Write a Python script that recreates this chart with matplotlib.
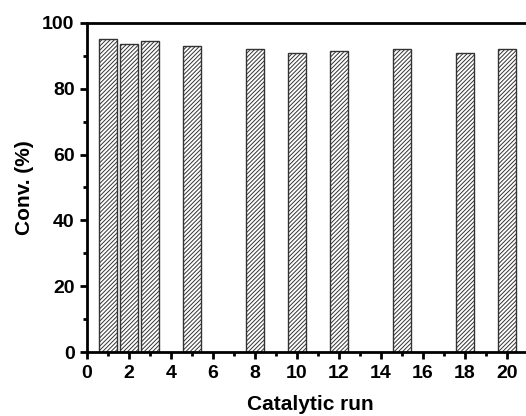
import matplotlib
matplotlib.use("Agg")
import matplotlib.pyplot as plt
from matplotlib.ticker import MultipleLocator

# catalytic run number and conversion (%)
runs = [1, 2, 3, 5, 8, 10, 12, 15, 18, 20]
conv = [95, 93.5, 94.5, 93, 92, 91, 91.5, 92, 91, 92]

plt.rcParams['font.family'] = ['Liberation Sans', 'DejaVu Sans']
plt.rcParams['font.weight'] = 'bold'
plt.rcParams['hatch.linewidth'] = 0.7
plt.rcParams['hatch.color'] = '#222222'

fig = plt.figure(figsize=(5.26, 4.16), dpi=100)
ax = fig.add_axes([0.1654, 0.1538, 0.85, 0.791])

ax.bar(runs, conv, width=0.85, color='white', edgecolor='#333333',
       linewidth=1.0, hatch='////////')

ax.set_xlim(0, 21.3)
ax.set_ylim(0, 100)
ax.xaxis.set_major_locator(MultipleLocator(2))
ax.xaxis.set_minor_locator(MultipleLocator(1))
ax.yaxis.set_major_locator(MultipleLocator(20))
ax.yaxis.set_minor_locator(MultipleLocator(10))
ax.tick_params(which='major', direction='out', length=5, width=2, labelsize=14, pad=4)
ax.tick_params(which='minor', direction='out', length=3, width=2)
for s in ax.spines.values():
    s.set_linewidth(2)

ax.set_xlabel('Catalytic run', fontsize=15, fontweight='bold', labelpad=10)
ax.set_ylabel('Conv. (%)', fontsize=15, fontweight='bold', labelpad=6)

fig.savefig('out.png', dpi=100)
